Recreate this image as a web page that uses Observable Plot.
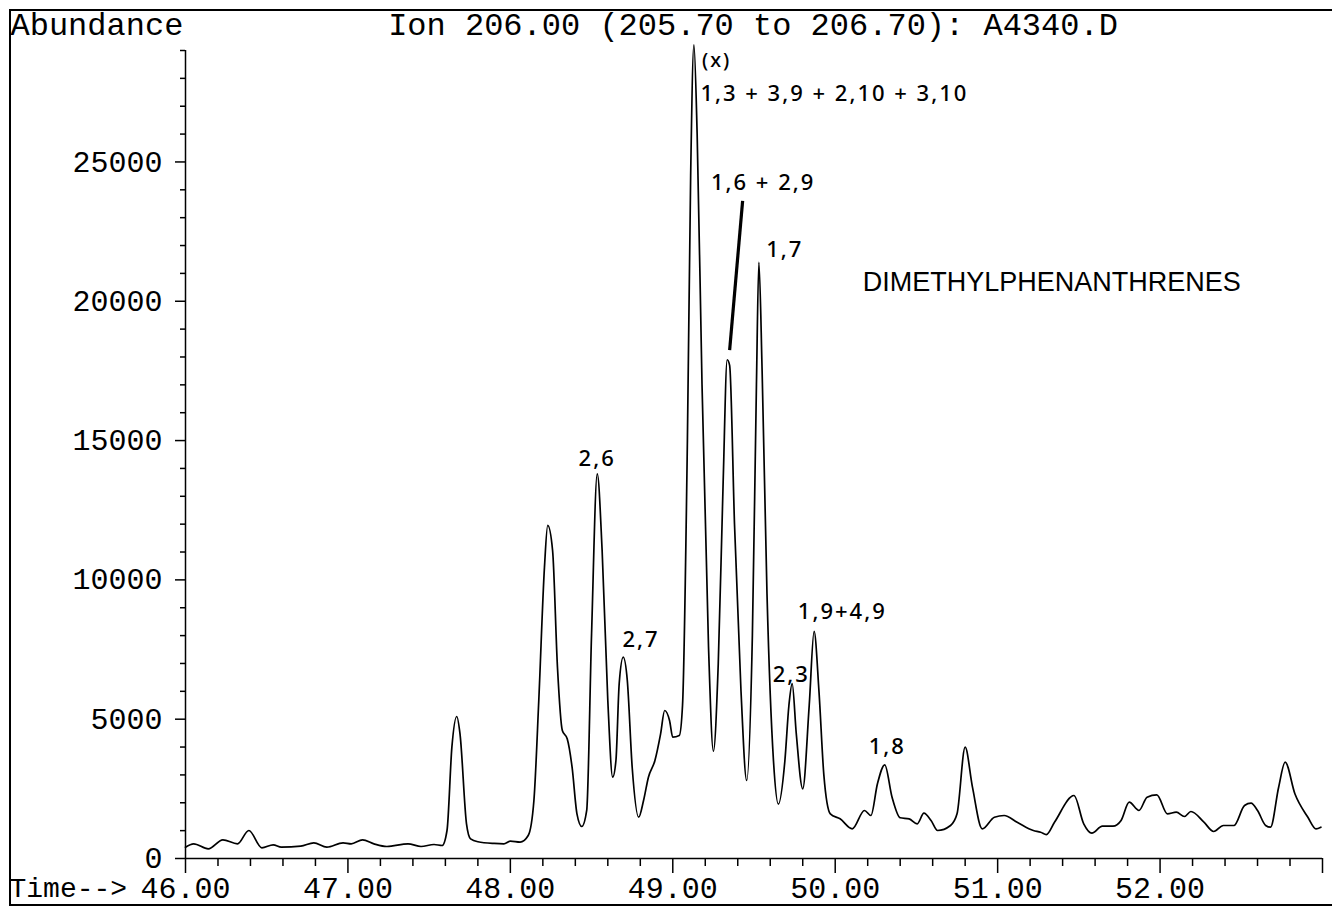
<!DOCTYPE html>
<html>
<head>
<meta charset="utf-8">
<script src="https://cdn.jsdelivr.net/npm/d3@7"></script>
<script src="https://cdn.jsdelivr.net/npm/@observablehq/plot@0.6"></script>
<style>
  html, body { margin: 0; padding: 0; background: white; }
  #wrap { position: relative; width: 1332px; height: 906px; overflow: hidden; }
  #border { position: absolute; left: 9px; top: 9px; width: 1340px; height: 893px;
            border-left: 2px solid #000; border-top: 2px solid #000; border-bottom: 2px solid #000; pointer-events: none; }
</style>
</head>
<body>
<div id="wrap"><div id="chart"></div><div id="border"></div></div>
<script>
// Retention time (min) and abundance
const times = [46.00,46.05,46.14,46.23,46.32,46.39,46.47,46.54,46.59,46.71,46.79,46.87,46.97,47.02,47.09,47.16,47.24,47.37,47.45,47.53,47.58,47.61,47.64,47.67,47.69,47.73,47.755,47.80,47.90,47.96,48.00,48.06,48.11,48.145,48.175,48.21,48.23,48.26,48.29,48.32,48.35,48.38,48.41,48.44,48.47,48.50,48.535,48.565,48.60,48.63,48.65,48.67,48.695,48.72,48.75,48.79,48.82,48.85,48.89,48.925,48.95,48.98,49.00,49.04,49.06,49.09,49.11,49.13,49.15,49.18,49.22,49.25,49.28,49.31,49.335,49.35,49.38,49.42,49.455,49.49,49.515,49.53,49.55,49.58,49.62,49.65,49.69,49.715,49.735,49.76,49.80,49.84,49.87,49.90,49.93,49.97,50.03,50.105,50.18,50.22,50.26,50.305,50.35,50.40,50.455,50.505,50.546,50.59,50.63,50.71,50.75,50.80,50.845,50.905,50.98,51.04,51.12,51.22,51.265,51.30,51.35,51.47,51.53,51.58,51.645,51.71,51.76,51.81,51.87,51.92,51.98,52.045,52.10,52.15,52.19,52.27,52.33,52.39,52.455,52.52,52.56,52.60,52.65,52.68,52.73,52.77,52.83,52.91,52.96,52.99];
const abundance = [405,527,348,671,527,1005,384,491,405,442,563,405,563,527,671,527,430,527,430,502,466,1005,3995,5097,4476,1245,707,600,540,527,622,586,825,2082,5671,10456,11953,11055,6867,4594,4296,3277,1604,1149,1723,8065,13808,11055,5671,2918,3518,6270,7225,6389,3277,1482,2082,2918,3518,4476,5312,4953,4354,4415,5500,15000,24500,29200,26000,17000,7600,3850,7000,13500,17900,17700,12000,6000,2800,8000,17000,21400,17500,9500,3500,1950,3500,5500,6280,4500,2500,5500,8150,6000,3000,1600,1425,1066,1723,1543,2681,3363,2200,1461,1425,1245,1626,1364,1005,1185,1604,3995,2559,1066,1482,1543,1303,1005,944,860,1300,2261,1245,908,1159,1159,1364,2021,1723,2200,2286,1604,1662,1508,1687,1303,969,1185,1185,1902,1985,1723,1185,1124,2559,3457,2322,1482,1066,1124];

// Axis ticks
const xMajorTicks = [46,47,48,49,50,51,52,53];
const xMinorTicks = [46.2,46.4,46.6,46.8,47.2,47.4,47.6,47.8,48.2,48.4,48.6,48.8,49.2,49.4,49.6,49.8,50.2,50.4,50.6,50.8,51.2,51.4,51.6,51.8,52.2,52.4,52.6,52.8];
const yMajorTicks = [0,5000,10000,15000,20000,25000];
const yMinorTicks = [1000,2000,3000,4000,6000,7000,8000,9000,11000,12000,13000,14000,16000,17000,18000,19000,21000,22000,23000,24000,26000,27000,28000,29000];

// Hand-written peak annotations
const annoText = ["(x)","1,3 + 3,9 + 2,10 + 3,10","1,6 + 2,9","1,7","2,6","2,7","2,3","1,9+4,9","1,8"];
const annoT    = [49.18, 49.17, 49.235, 49.575, 48.42, 48.69, 49.615, 49.77, 50.206];
const annoV    = [28650, 27450, 24250, 21850, 14350, 7850, 6600, 8850, 4000];
const annoSize = [20, 22, 22, 22, 22, 22, 22, 22, 22];

// Pointer stroke for "1,6 + 2,9"
const pointerT1 = [49.43], pointerV1 = [23600], pointerT2 = [49.35], pointerV2 = [18250];

const compoundClass = ["DIMETHYLPHENANTHRENES"];
const compoundT = [50.17], compoundV = [20680];

const titleText = "Ion 206.00 (205.70 to 206.70): A4340.D";
const yLabel = "Abundance";
const xLabel = "Time-->";

const series = times.map((t, i) => ({t, v: abundance[i]}));
const annos = annoText.map((s, i) => ({s, t: annoT[i], v: annoV[i], size: annoSize[i]}));
const pointers = pointerT1.map((t, i) => ({x1: t, y1: pointerV1[i], x2: pointerT2[i], y2: pointerV2[i]}));
const compounds = compoundClass.map((s, i) => ({s, t: compoundT[i], v: compoundV[i]}));

const mono = "'Liberation Mono', 'Courier New', monospace";

const chart = Plot.plot({
  width: 1332,
  height: 906,
  marginLeft: 185,
  marginRight: 10,
  marginTop: 50,
  marginBottom: 48,
  x: {domain: [46, 53]},
  y: {domain: [0, 29000]},
  style: {fontFamily: mono, fontSize: "30px", color: "black", background: "white", overflow: "visible"},
  marks: [
    Plot.ruleX([46], {y1: 0, y2: 29000, stroke: "black", strokeWidth: 1.5}),
    Plot.ruleY([0], {x1: 46, x2: 53, stroke: "black", strokeWidth: 1.5}),
    Plot.axisY({ticks: yMajorTicks, tickSize: 10, tickPadding: 13, tickFormat: d => String(d), label: null, fontSize: 30, strokeWidth: 1.5}),
    Plot.axisY({ticks: yMinorTicks, tickSize: 5, tickFormat: () => "", label: null, strokeWidth: 1.5}),
    Plot.axisX({ticks: xMajorTicks, tickSize: 15, tickPadding: 3, tickFormat: d => d === 53 ? "" : d.toFixed(2), label: null, fontSize: 30, strokeWidth: 1.5}),
    Plot.axisX({ticks: xMinorTicks, tickSize: 8, tickFormat: () => "", label: null, strokeWidth: 1.5}),
    Plot.line(series, {x: "t", y: "v", curve: "monotone-x", stroke: "black", strokeWidth: 1.7, clip: false}),
    Plot.link(pointers, {x1: "x1", y1: "y1", x2: "x2", y2: "y2", stroke: "black", strokeWidth: 3.2}),
    Plot.text(annos, {x: "t", y: "v", text: "s", textAnchor: "start", fontSize: "size", fontFamily: "'Noto Sans', sans-serif", fontWeight: 500, fill: "black"}),
    Plot.text(compounds, {x: "t", y: "v", text: "s", textAnchor: "start", fontSize: 27, fontFamily: "'Liberation Sans', Arial, sans-serif", fill: "black"}),
    Plot.text([yLabel], {frameAnchor: "top-left", dx: -175, dy: -16, textAnchor: "start", lineAnchor: "bottom", fontSize: 32, fontFamily: mono, fill: "black"}),
    Plot.text([titleText], {frameAnchor: "top", dx: -1, dy: -16, textAnchor: "middle", lineAnchor: "bottom", fontSize: 32, fontFamily: mono, fill: "black"}),
    Plot.text([xLabel], {frameAnchor: "bottom-left", dx: -176, dy: 38, textAnchor: "start", lineAnchor: "bottom", fontSize: 28, fontFamily: mono, fill: "black"})
  ]
});

d3.select(chart).selectAll("text")
  .filter(function() { return annoText.includes(this.textContent); })
  .attr("letter-spacing", "2px");

document.getElementById("chart").appendChild(chart);
</script>
</body>
</html>
